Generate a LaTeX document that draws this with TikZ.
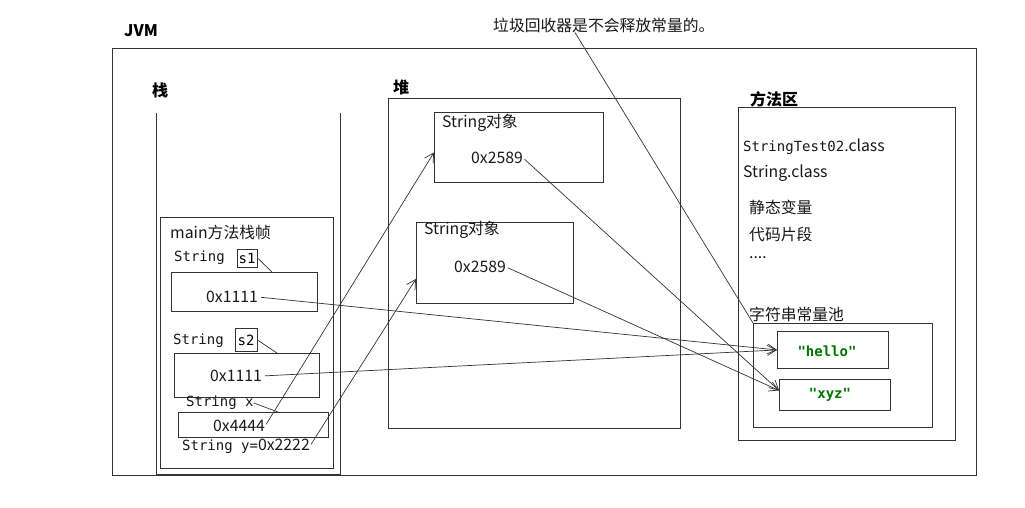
\documentclass[tikz,border=0pt]{standalone}
\usepackage{fontspec}
\setmainfont{Noto Sans CJK SC}
\setmonofont{DejaVu Sans Mono}
\usetikzlibrary{arrows.meta}
\begin{document}
\begin{tikzpicture}[x=1pt,y=-1pt,
  box/.style={draw=black!80, line width=0.9pt, inner sep=0pt, anchor=north west},
  txt/.style={anchor=west, inner sep=0pt, font=\fontsize{15.8}{18}\selectfont, text=black!90},
  mono/.style={anchor=west, inner sep=0pt, font=\fontsize{14}{16}\selectfont\ttfamily, text=black!90},
  ttl/.style={anchor=west, inner sep=0pt, font=\fontsize{16}{18}\selectfont\bfseries},
  conn/.style={draw=black!80, line width=0.7pt},
  arr/.style={conn, -{Straight Barb[length=9pt,width=10pt]}},
  lit/.style={anchor=center, inner sep=0pt, font=\fontsize{14}{16}\selectfont\ttfamily\bfseries, text=green!45!black}
]
\useasboundingbox (0,0) rectangle (1025,508);
\fill[white] (0,0) rectangle (1025,508);

% titles
\node[ttl] (jvmt) at (124,31) {JVM};
\node[box, minimum width=864pt, minimum height=427pt] (jvm) at (112,48) {};
\node[ttl] (stackt) at (152,90) {栈};
\node[ttl] (heapt) at (393,87) {堆};
\node[ttl] (mat) at (750,99) {方法区};
\node[txt] (note) at (493,25) {垃圾回收器是不会释放常量的。};

% stack
\draw[draw=black!80, line width=0.9pt] (156,113) -- (156,474) -- (340,474) -- (340,113);
\node[box, minimum width=173pt, minimum height=251pt] (frame) at (160,217) {};
\node[txt] (framet) at (170,232) {main方法栈帧};

\node[mono] (ls1) at (174,258) {String};
\node[box, minimum width=20pt, minimum height=18pt, anchor=center, font=\fontsize{14}{16}\selectfont\ttfamily] (s1box) at (247,258) {s1};
\node[box, minimum width=146pt, minimum height=39pt] (val1) at (171,272) {};
\node[txt] (v1) at (206,297) {0x1111};
\coordinate (c1) at (272,272);

\node[mono] (ls2) at (173,341) {String};
\node[box, minimum width=22pt, minimum height=23pt, anchor=center, font=\fontsize{14}{16}\selectfont\ttfamily] (s2box) at (246,340) {s2};
\node[box, minimum width=145pt, minimum height=44pt] (val2) at (174,353) {};
\node[txt] (v2) at (210,376) {0x1111};
\coordinate (c2) at (277,353);

\node[mono] (lsx) at (186,403) {String x};
\node[box, minimum width=150pt, minimum height=25pt] (val3) at (178,412) {};
\node[txt] (v3) at (213,426) {0x4444};
\coordinate (c3) at (278,412);

\node[mono] (vy) at (182,446) {String y=\normalfont\fontsize{15.8}{18}\selectfont 0x2222};

% heap
\node[box, minimum width=292pt, minimum height=330pt] (heap) at (388,98) {};
\node[box, minimum width=169pt, minimum height=70pt] (obj1) at (434,112) {};
\node[txt] (o1t) at (442,123) {String对象};
\node[txt] (h1) at (471,158) {0x2589};
\node[box, minimum width=157pt, minimum height=81pt] (obj2) at (416,222) {};
\node[txt] (o2t) at (424,230) {String对象};
\node[txt] (h2) at (454,267) {0x2589};

% method area
\node[box, minimum width=217pt, minimum height=333pt] (ma) at (738,107) {};
\node[txt] (cls1) at (743,147) {\ttfamily\fontsize{14}{16}\selectfont StringTest02\normalfont\fontsize{15.8}{18}\selectfont.class};
\node[txt] (cls2) at (743,173) {String.class};
\node[txt] (sv) at (749,207) {静态变量};
\node[txt] (cp) at (749,234) {代码片段};
\node[txt] (dots) at (749,258) {....};
\node[txt] (poolt) at (749,314) {字符串常量池};
\node[box, minimum width=179pt, minimum height=104pt] (pool) at (753,323) {};
\node[box, minimum width=111pt, minimum height=37pt] (hello) at (777,331) {};
\node[lit] (hellot) at (827,351) {"hello"};
\node[box, minimum width=111pt, minimum height=31pt] (xyz) at (779,379) {};
\node[lit] (xyzt) at (830,395) {"xyz"};

% connectors
\draw[conn] (s1box.east) -- (c1);
\draw[conn] (s2box.east) -- (c2);
\draw[conn] (lsx.east) -- (c3);
\draw[arr, shorten <=3pt] (v1.east) -- (hello.west);
\draw[arr, shorten <=3pt] (v2.east) -- (hello.west);
\draw[arr, shorten <=2pt] (v3.east) -- ([yshift=-5pt]obj1.west);
\draw[arr, shorten <=2pt] (vy.east) -- ([yshift=-16pt]obj2.west);
\draw[arr, shorten <=2pt] (h1.east) -- ([yshift=4.5pt]xyz.west);
\draw[arr, shorten <=2pt] (h2.east) -- ([yshift=4.5pt]xyz.west);
\draw[conn] ([xshift=82pt]note.south west) -- (pool.north west);
\end{tikzpicture}
\end{document}
